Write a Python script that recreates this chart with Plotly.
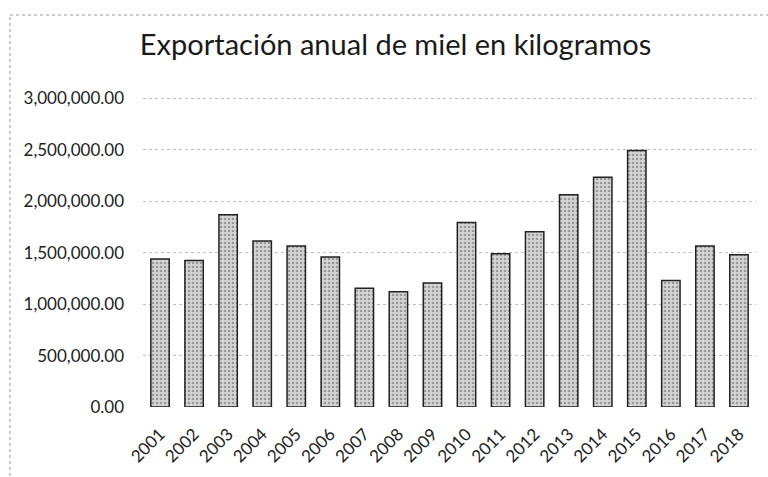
import plotly.graph_objects as go

years = ["2001", "2002", "2003", "2004", "2005", "2006", "2007", "2008", "2009",
         "2010", "2011", "2012", "2013", "2014", "2015", "2016", "2017", "2018"]
exports_kg = [1440000, 1425000, 1870000, 1615000, 1565000, 1460000, 1155000, 1120000, 1205000,
              1795000, 1490000, 1705000, 2065000, 2235000, 2495000, 1230000, 1565000, 1480000]
y_ticks = [0, 500000, 1000000, 1500000, 2000000, 2500000, 3000000]
y_tick_labels = ["0.00", "500,000.00", "1,000,000.00", "1,500,000.00",
                 "2,000,000.00", "2,500,000.00", "3,000,000.00"]
title_text = "Exportación anual de miel en kilogramos"

fig = go.Figure()
fig.add_trace(go.Bar(
    x=years,
    y=exports_kg,
    marker=dict(
        color="#cfcfcf",
        line=dict(color="#222222", width=1.5),
        pattern=dict(shape=".", fgcolor="#5a5a5a", bgcolor="#d6d6d6", size=4, solidity=0.35),
    ),
    width=0.54,
))

fig.update_layout(
    width=768, height=477,
    margin=dict(l=143, r=12, t=97, b=70),
    paper_bgcolor="white", plot_bgcolor="white",
    showlegend=False,
    title=dict(text=title_text, x=0.412, xanchor="center", y=0.905, yanchor="middle",
               xref="paper", font=dict(family="Lato", size=29, color="#1a1a1a")),
    font=dict(family="Lato", color="#222222"),
    bargap=0.46,
)
fig.update_xaxes(
    type="category", tickangle=-45, showgrid=False, showline=False, ticks="",
    tickfont=dict(family="Lato", size=17, color="#222222"), ticklabelstandoff=13,
)
fig.update_yaxes(
    range=[0, 3015000], tickvals=y_ticks, ticktext=y_tick_labels,
    showgrid=True, gridcolor="#bdbdbd", griddash="dot", gridwidth=1,
    zeroline=False, showline=False, ticks="",
    tickfont=dict(family="Lato", size=17, color="#222222"), ticklabelstandoff=18,
)
# dotted chart-area border (left and top edges visible in the reference)
fig.add_shape(type="line", xref="paper", yref="paper", x0=-0.217, x1=-0.217, y0=-0.3, y1=1.2645,
              line=dict(color="#9a9a9a", width=1, dash="dot"))
fig.add_shape(type="line", xref="paper", yref="paper", x0=-0.217, x1=1.05, y0=1.2645, y1=1.2645,
              line=dict(color="#9a9a9a", width=1, dash="dot"))

fig.write_html("out.html", config={"displayModeBar": False},
               post_script="document.body.style.margin='0';")
